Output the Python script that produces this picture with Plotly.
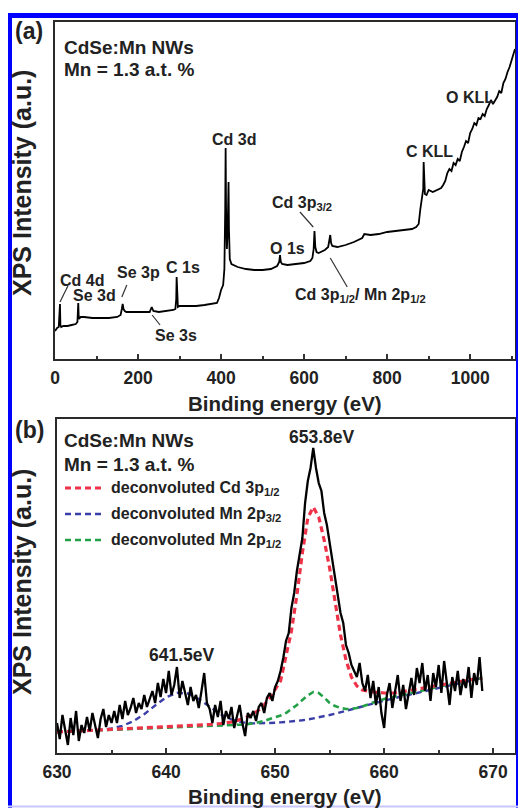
import plotly.graph_objects as go

# ---------------- data: panel (a) survey spectrum ----------------
survey_ev = [0, 5, 9, 11, 12, 13, 15, 20, 30, 40, 50, 54, 55, 56, 57, 58, 62, 70, 90, 110,
             130, 150, 158, 161, 163, 165, 168, 172, 190, 210, 228, 233, 237, 250, 270, 285,
             290, 292, 293, 294, 296, 300, 320, 340, 360, 380, 390, 395, 400, 405, 408, 410,
             411, 412, 414, 416, 418, 419, 421, 425, 430, 440, 460, 480, 500, 520, 535, 540,
             542, 544, 547, 560, 580, 600, 615, 620, 623, 625, 627, 630, 635, 650, 658, 661,
             663, 665, 668, 680, 700, 720, 740, 745, 760, 780, 800, 820, 840, 860, 870, 876,
             880, 884, 887, 888, 889, 891, 895, 900, 910, 920, 930, 935, 940, 945, 950, 955,
             960, 965, 970, 975, 980, 985, 990, 995, 1000, 1005, 1010, 1015, 1020, 1025, 1030,
             1035, 1040, 1045, 1050, 1055, 1060, 1065, 1070, 1075, 1080, 1085, 1090, 1095, 1100,
             1105, 1108]
survey_int = [28, 31, 32, 45, 55, 34, 32, 33, 33, 34, 35, 37, 50, 56, 44, 40, 42, 42, 41, 41,
              41, 42, 44, 50, 55, 50, 48, 47, 47, 47, 47, 52, 48, 47, 48, 49,
              50, 60, 82, 62, 52, 53, 53, 53, 54, 55, 56, 61, 69, 74, 90, 150,
              211, 150, 110, 130, 177, 130, 100, 95, 94, 92, 90, 89, 89, 90, 93, 97,
              104, 97, 95, 94, 95, 96, 98, 101, 110, 128, 112, 107, 106, 109, 112, 118,
              124, 116, 113, 112, 114, 117, 121, 125, 124, 125, 127, 128, 129, 130, 132, 135,
              150, 162, 170, 197, 185, 165, 164, 169, 167, 169, 171, 174, 178, 186, 190, 188,
              196, 194, 200, 198, 207, 212, 218, 216, 226, 230, 236, 234, 241, 240, 245,
              243, 250, 254, 259, 255, 258, 262, 268, 266, 276, 280, 287, 292, 299,
              305, 310]

# ---------------- data: panel (b) high-resolution spectrum ----------------
hr_start_ev = 630.0
hr_step_ev = 0.25
hr_int = [30, 14, 38, 22, 8, 35, 18, 42, 12, 28, 20,
          36, 22, 40, 28, 15, 34, 44, 26, 38, 30,
          42, 30, 48, 34, 52, 38, 45, 55, 40, 50, 44, 58, 46, 54,
          62, 50, 70, 56, 74, 60, 82, 58, 68, 86, 55, 72,
          60, 48, 66, 52, 58, 45, 62, 80, 50,
          44, 30, 48, 36, 52, 28, 42, 34, 46, 25, 38, 48, 30, 17, 40, 35,
          42, 32, 46, 50, 40, 55, 60, 52, 66,
          72, 82, 95, 112, 120, 145, 160, 182, 200, 215, 250, 272, 285, 305, 285, 270,
          262, 240, 228, 210, 192, 178, 155, 140, 130, 108, 100, 88, 82, 76, 90, 70,
          62, 78, 55, 72, 48, 66, 40, 25, 58, 70, 45, 62, 78, 52, 68, 44,
          60, 75, 58, 85, 70, 90, 62, 78, 52, 80, 66, 88, 60, 92, 70, 48,
          76, 62, 82, 58, 74, 65, 86, 55, 80, 68, 96, 62]

fit_ev = [630, 631, 632, 633, 634, 635, 636, 637, 638, 639, 640, 641, 642, 643, 644, 645, 646,
          647, 648, 648.5, 649, 649.5, 650, 650.5, 651, 651.5, 652, 652.5, 653, 653.5, 654,
          654.5, 655, 655.5, 656, 656.5, 657, 657.5, 658, 659, 660, 661, 662, 663, 664, 665,
          666, 667, 668, 669]
fit_cd3p12 = [21, 21.5, 22, 22.5, 23, 23.5, 24, 24.5, 25, 25.5, 26, 26.5, 27, 27.5, 28.5, 29.5, 31,
              34, 39, 43, 48, 55, 63, 72, 97, 122, 158, 200, 235, 246, 236,
              213, 185, 152, 118, 93, 76, 67, 63, 61, 60, 60, 62, 64, 66, 68,
              70, 72, 73.5, 75]
fit_mn2p32 = [21, 21.4, 22, 22.3, 23.1, 24.5, 27.1, 31.8, 38.8, 47.5, 55.6, 60.1, 59.5, 54, 46.1, 38.7, 33.5,
              30.6, 29.6, 29.6, 29.7, 29.9, 30.2, 30.6, 31, 31.5, 32, 32.7, 33.5, 34.5, 35.5,
              36.7, 38, 39.3, 40.6, 42, 43.5, 45, 46.5, 49.5, 52.5, 55, 57.5, 60, 62.5, 65,
              67.5, 70, 72.5, 75]
fit_mn2p12 = [21, 21.4, 21.8, 22.2, 22.6, 23, 23.4, 23.8, 24.2, 24.6, 25, 25.4, 25.8, 26.2, 26.6, 27, 27.6,
              28.4, 29.5, 30.5, 32, 34, 35.5, 37.5, 40, 44, 48, 53, 57.5, 61, 60,
              55.5, 50, 47, 45, 44, 44, 45, 46.5, 50.5, 54, 56.5, 59, 61.5, 64, 66.5,
              69, 71, 73, 75]

legend_names = ["deconvoluted Cd 3p<sub>1/2</sub>",
                "deconvoluted Mn 2p<sub>3/2</sub>",
                "deconvoluted Mn 2p<sub>1/2</sub>"]
fit_colors = ["#ee3348", "#3a3fa8", "#23a046"]

W, H = 518, 808
FONT = "Liberation Sans, Arial, sans-serif"


def px(x):
    return x / W


def py(y):
    return 1 - y / H


fig = go.Figure()

fig.add_trace(go.Scatter(x=survey_ev, y=survey_int, mode="lines",
                         line=dict(color="black", width=1.8),
                         xaxis="x", yaxis="y", showlegend=False))

fits = [fit_cd3p12, fit_mn2p32, fit_mn2p12]
widths = [3.2, 2.4, 2.6]
for i in [1, 2, 0]:
    fig.add_trace(go.Scatter(x=fit_ev, y=fits[i], mode="lines",
                             line=dict(color=fit_colors[i], width=widths[i], dash="6px,4px"),
                             xaxis="x2", yaxis="y2", showlegend=False))

fig.add_trace(go.Scatter(x0=hr_start_ev, dx=hr_step_ev, y=hr_int, mode="lines",
                         line=dict(color="black", width=2.3),
                         xaxis="x2", yaxis="y2", showlegend=False))

axis_common = dict(showgrid=False, zeroline=False, showline=True, mirror=True,
                   linecolor="#2a2a2a", linewidth=2, automargin=False)
tickfont = dict(family=FONT, size=17.5, color="#222", weight="bold")

fig.update_layout(
    width=W, height=H,
    margin=dict(l=0, r=0, t=0, b=0, pad=0, autoexpand=False),
    autosize=False,
    paper_bgcolor="white", plot_bgcolor="white",
    font=dict(family=FONT, color="#222", weight="bold"),
    xaxis=dict(domain=[px(55), px(515)], range=[0, 1108], anchor="y",
               tickvals=[0, 200, 400, 600, 800, 1000], ticks="inside", ticklen=5,
               tickwidth=1.5, tickcolor="#333", ticklabelstandoff=2,
               minor=dict(tickvals=[100, 300, 500, 700, 900, 1100], ticks="inside",
                          ticklen=3, tickcolor="#333"),
               tickfont=tickfont, **axis_common),
    yaxis=dict(domain=[py(359), py(22)], range=[0, 337], anchor="x",
               showticklabels=False, ticks="", **axis_common),
    xaxis2=dict(domain=[px(57), px(515)], range=[630, 672], anchor="y2",
                tickvals=[630, 640, 650, 660, 670], ticks="inside", ticklen=5,
                tickwidth=1.5, tickcolor="#333", ticklabelstandoff=2,
                minor=dict(tickvals=[635, 645, 655, 665], ticks="inside",
                           ticklen=3, tickcolor="#333"),
                tickfont=tickfont, **axis_common),
    yaxis2=dict(domain=[py(753), py(419)], range=[0, 334], anchor="x2",
                showticklabels=False, ticks="", **axis_common),
)

ann = []


def add_text(text, x, y, size, xref="paper", yref="paper", xanchor="center",
             yanchor="middle", angle=0):
    ann.append(dict(text=text, x=x, y=y, xref=xref, yref=yref, xanchor=xanchor,
                    yanchor=yanchor, showarrow=False, textangle=angle,
                    font=dict(family=FONT, size=size, color="#222", weight="bold")))


add_text("(a)", px(29), py(31), 23)
add_text("(b)", px(29), py(430), 23)
for yy in (47, 440):
    add_text("CdSe:Mn NWs", px(62), py(yy), 19, xanchor="left")
for yy in (70, 465):
    add_text("Mn = 1.3 a.t. %", px(62), py(yy), 19, xanchor="left")
add_text("Binding energy (eV)", px(285), py(389.5), 20.5, yanchor="top")
add_text("Binding energy (eV)", px(285), py(783), 20.5, yanchor="top")
add_text("XPS Intensity (a.u.)", px(22), py(183), 25, angle=-90)
add_text("XPS Intensity (a.u.)", px(22), py(582), 25, angle=-90)

pa = dict(xref="x", yref="y")
add_text("Cd 3d", 431, 220, 16, **pa)
add_text("C KLL", 901, 208, 16, **pa)
add_text("O KLL", 1000, 262, 16, **pa)
add_text("Cd 3p<sub>3/2</sub>", 518, 156, 16, xanchor="left", **pa)
add_text("O 1s", 559, 111, 16, **pa)
add_text("Cd 3p<sub>1/2</sub>/ Mn 2p<sub>1/2</sub>", 573, 64, 16, xanchor="left", **pa)
add_text("Se 3p", 202, 87, 16, **pa)
add_text("C 1s", 308, 92, 16, **pa)
add_text("Cd 4d", 65, 79, 16, **pa)
add_text("Se 3d", 94, 64, 16, **pa)
add_text("Se 3s", 292, 24, 16, **pa)

pb = dict(xref="x2", yref="y2")
add_text("653.8eV", 654.3, 316, 17.5, **pb)
add_text("641.5eV", 641.5, 98, 17.5, **pb)

for i, yy in enumerate((488, 514, 540)):
    add_text(legend_names[i], px(109), py(yy), 16, xanchor="left")

fig.update_layout(annotations=ann)

shapes = []
for (x0, y0, x1, y1) in [(590, 147, 622, 132), (704, 72, 663, 101), (31, 73, 12, 57),
                         (173, 74, 161, 62), (253, 34, 234, 44)]:
    shapes.append(dict(type="line", xref="x", yref="y", x0=x0, y0=y0, x1=x1, y1=y1,
                       line=dict(color="#333", width=1.2)))
for i, yy in enumerate((488, 514, 540)):
    shapes.append(dict(type="line", xref="paper", yref="paper", x0=px(65), x1=px(105),
                       y0=py(yy), y1=py(yy),
                       line=dict(color=fit_colors[i], width=widths[i], dash="6px,4px")))
shapes += [
    dict(type="line", xref="paper", yref="paper", x0=px(8), x1=1, y0=py(15.5), y1=py(15.5),
         line=dict(color="#0000ff", width=5)),
    dict(type="line", xref="paper", yref="paper", x0=px(10), x1=px(10), y0=py(13), y1=0,
         line=dict(color="#0000ff", width=4)),
    dict(type="line", xref="paper", yref="paper", x0=px(517), x1=px(517), y0=py(13), y1=0,
         line=dict(color="#0000ff", width=2)),
    dict(type="line", xref="paper", yref="paper", x0=px(8), x1=1, y0=py(806.5), y1=py(806.5),
         line=dict(color="#c8c8ff", width=2)),
]
fig.update_layout(shapes=shapes)

fig.write_html("out.html")
